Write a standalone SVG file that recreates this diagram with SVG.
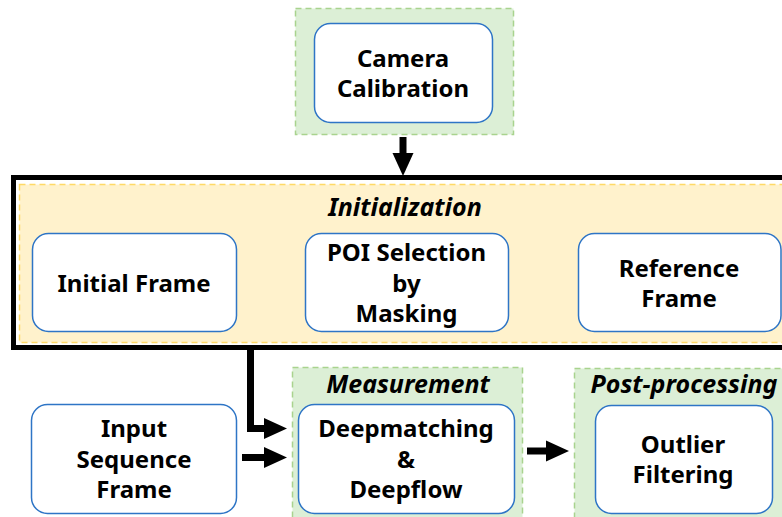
<svg xmlns="http://www.w3.org/2000/svg" width="782" height="517" viewBox="0 0 782 517">
  <style>
    .node { fill: #ffffff; stroke: #2e75c6; stroke-width: 1.5; }
    .grp-green { fill: #dcefd6; stroke: #a9d38e; stroke-width: 1.5; stroke-dasharray: 6 4; }
    .grp-yellow { fill: #fff2cc; stroke: #ffd966; stroke-width: 1.5; stroke-dasharray: 6 4; }
    .frame { fill: none; stroke: #000000; stroke-width: 5; }
    .lbl { font-family: "Noto Sans", "Liberation Sans", sans-serif; font-weight: bold; font-size: 24px; fill: #000000; text-anchor: middle; }
    .title { font-family: "Noto Sans", "Liberation Sans", sans-serif; font-weight: bold; font-style: italic; font-size: 25px; fill: #000000; text-anchor: middle; }
    .conn { fill: none; stroke: #000000; stroke-width: 7; stroke-linejoin: miter; }
  </style>
  <defs>
    <marker id="head" markerUnits="userSpaceOnUse" markerWidth="23" markerHeight="22" refX="0" refY="10.5" orient="auto" overflow="visible">
      <path d="M0,0 L23,10.5 L0,21 Z" fill="#000000"/>
    </marker>
  </defs>

  <!-- Camera calibration stage -->
  <g id="calibration">
    <rect class="grp-green" x="295.5" y="8.5" width="218" height="126"/>
    <g id="camera-calibration">
      <rect class="node" x="314.5" y="23.5" width="178" height="99" rx="16"/>
      <text class="lbl" x="403" y="67">Camera</text>
      <text class="lbl" x="403" y="97">Calibration</text>
    </g>
  </g>

  <!-- Initialization stage -->
  <g id="initialization">
    <rect class="frame" x="13.5" y="177.5" width="800" height="170"/>
    <rect class="grp-yellow" x="19.5" y="184.5" width="790" height="158"/>
    <text class="title" x="405" y="216" font-size="24">Initialization</text>
    <g id="initial-frame">
      <rect class="node" x="32.5" y="233.5" width="204" height="98" rx="16"/>
      <text class="lbl" x="134" y="292">Initial Frame</text>
    </g>
    <g id="poi-selection">
      <rect class="node" x="305.5" y="233.5" width="203" height="98" rx="16"/>
      <text class="lbl" x="406.5" y="261">POI Selection</text>
      <text class="lbl" x="406.5" y="292">by</text>
      <text class="lbl" x="406.5" y="322">Masking</text>
    </g>
    <g id="reference-frame">
      <rect class="node" x="578.5" y="233.5" width="202.5" height="98" rx="16"/>
      <text class="lbl" x="679" y="277">Reference</text>
      <text class="lbl" x="679" y="307">Frame</text>
    </g>
  </g>

  <!-- Input sequence -->
  <g id="input-sequence">
    <rect class="node" x="31.5" y="404.5" width="205" height="109" rx="16"/>
    <text class="lbl" x="134" y="437">Input</text>
    <text class="lbl" x="134" y="468">Sequence</text>
    <text class="lbl" x="134" y="498">Frame</text>
  </g>

  <!-- Measurement stage -->
  <g id="measurement">
    <rect class="grp-green" x="292.5" y="367.5" width="230" height="160"/>
    <text class="title" x="408" y="393">Measurement</text>
    <g id="deepmatching">
      <rect class="node" x="298.5" y="404.5" width="216" height="109" rx="16"/>
      <text class="lbl" x="406" y="437">Deepmatching</text>
      <text class="lbl" x="406" y="468">&amp;</text>
      <text class="lbl" x="406" y="498">Deepflow</text>
    </g>
  </g>

  <!-- Post-processing stage -->
  <g id="post-processing">
    <rect class="grp-green" x="574.5" y="368.5" width="230" height="160"/>
    <text class="title" x="684" y="393">Post-processing</text>
    <g id="outlier-filtering">
      <rect class="node" x="595.5" y="405.5" width="177" height="108" rx="16"/>
      <text class="lbl" x="683" y="453">Outlier</text>
      <text class="lbl" x="683" y="483">Filtering</text>
    </g>
  </g>

  <!-- Connectors -->
  <g id="connectors">
    <path class="conn" d="M403,137 V153" marker-end="url(#head)"/>
    <path class="conn" d="M250.5,350 V428.5 H264" marker-end="url(#head)"/>
    <path class="conn" d="M242,457.5 H264" marker-end="url(#head)"/>
    <path class="conn" d="M527,451 H546" marker-end="url(#head)"/>
  </g>
</svg>
